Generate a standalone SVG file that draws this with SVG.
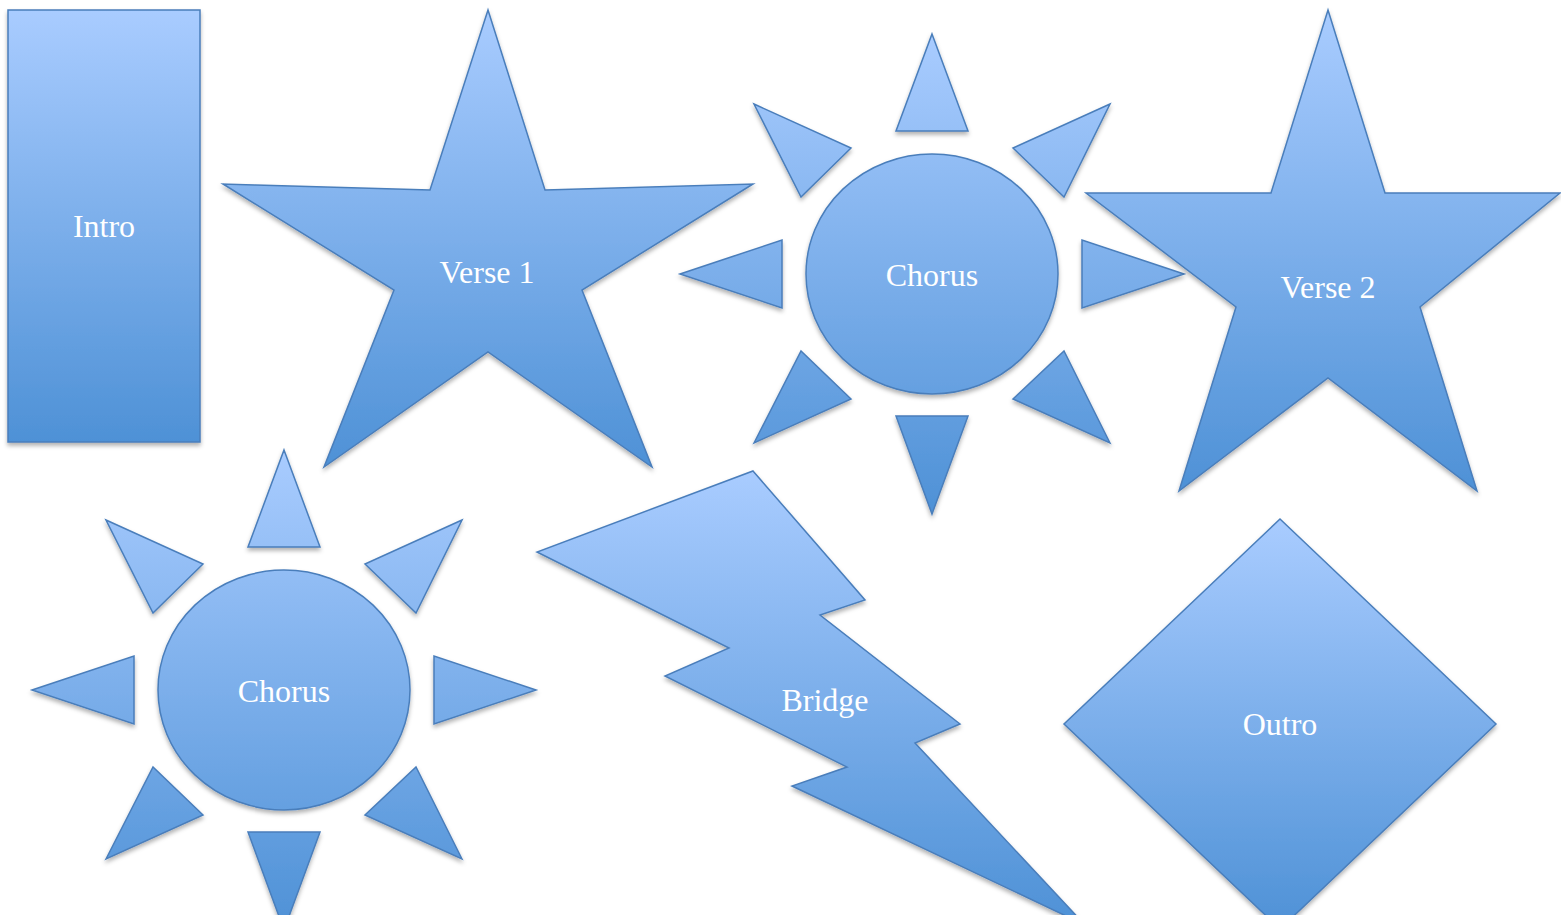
<svg xmlns="http://www.w3.org/2000/svg" width="1561" height="915" viewBox="0 0 1561 915">
<defs>
<linearGradient id="g" x1="0" y1="0" x2="0" y2="1">
<stop offset="0" stop-color="#a9ccff"/>
<stop offset="1" stop-color="#4e91d6"/>
</linearGradient>
<filter id="sh" x="-10%" y="-10%" width="120%" height="120%">
<feDropShadow dx="0" dy="3" stdDeviation="2" flood-color="#000" flood-opacity="0.3"/>
</filter>
</defs>
<style>
.s{fill:url(#g);stroke:#4a7ebb;stroke-width:1.5;stroke-linejoin:miter;filter:url(#sh)}
.t{font-family:"Liberation Serif",serif;font-size:32px;fill:#fff;text-anchor:middle}
</style>
<rect width="1561" height="915" fill="#fff"/>
<g id="intro">
<rect class="s" x="8" y="10" width="192" height="432"/>
<text class="t" x="104" y="237">Intro</text>
</g>
<g id="verse1">
<polygon class="s" points="488,10 545,190 753,184 582,290 652,467 488,352 324,467 394,290 223,184 430,190"/>
<text class="t" x="487" y="283">Verse 1</text>
</g>
<g id="chorus1">
<path class="s" d="M932,34 L968,131 L896,131 Z M754,104 L851,148 L801,197 Z M680,274 L782,240 L782,308 Z M754,443 L801,351 L851,399 Z M896,416 L968,416 L932,514 Z M1110,443 L1064,351 L1013,399 Z M1184,274 L1082,240 L1082,308 Z M1110,104 L1013,148 L1064,197 Z M806,274 A126,120 0 1 0 1058,274 A126,120 0 1 0 806,274 Z"/>
<text class="t" x="932" y="286">Chorus</text>
</g>
<g id="verse2">
<polygon class="s" points="1328,10 1385,193 1560,193 1420,307 1477,491 1328,378 1179,491 1236,307 1086,193 1271,193"/>
<text class="t" x="1328" y="298">Verse 2</text>
</g>
<g id="chorus2">
<path class="s" d="M284,450 L320,547 L248,547 Z M106,520 L203,564 L153,613 Z M32,690 L134,656 L134,724 Z M106,859 L153,767 L203,815 Z M248,832 L320,832 L284,930 Z M462,859 L416,767 L365,815 Z M536,690 L434,656 L434,724 Z M462,520 L365,564 L416,613 Z M158,690 A126,120 0 1 0 410,690 A126,120 0 1 0 158,690 Z"/>
<text class="t" x="284" y="702">Chorus</text>
</g>
<g id="bridge">
<polygon class="s" points="753,471 865,600 820,615 960,724 915,743 1085,925 792,786 847,767 665,676 729,648 537,552"/>
<text class="t" x="825" y="711">Bridge</text>
</g>
<g id="outro">
<polygon class="s" points="1280,519 1496,724 1280,929 1064,724"/>
<text class="t" x="1280" y="735">Outro</text>
</g>
<g id="connectors"/>
</svg>
